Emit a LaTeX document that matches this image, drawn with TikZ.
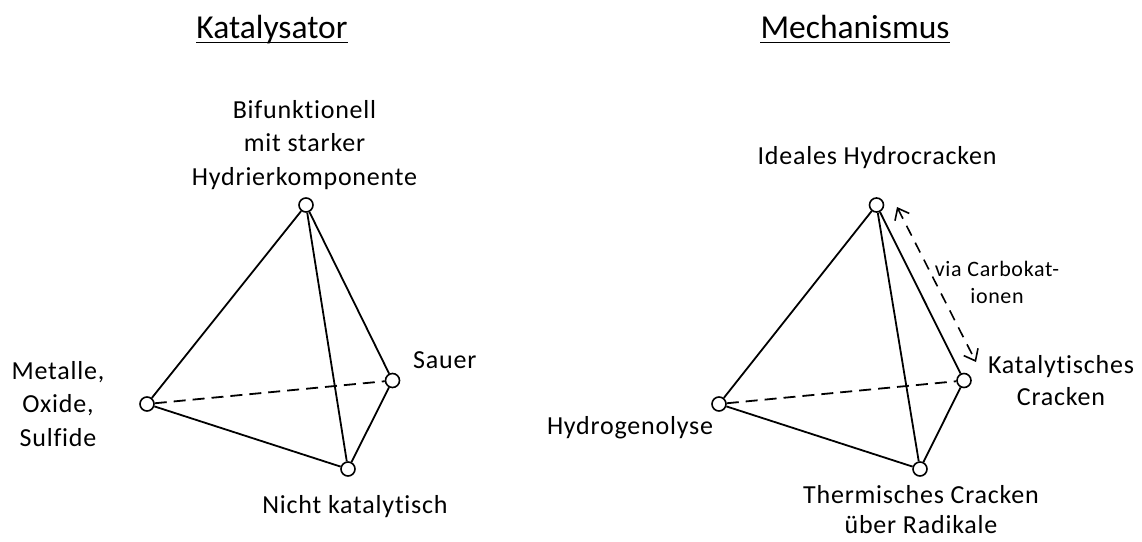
\documentclass[tikz,border=0pt]{standalone}
\usepackage{fontspec}
\setmainfont[Ligatures=NoCommon]{Carlito}
\newfontfamily\bodyfont[LetterSpace=3,Ligatures=NoCommon]{Carlito}
\usetikzlibrary{arrows.meta}
\tikzset{
  vtx/.style={circle,draw,fill=white,line width=1.6pt,minimum size=14pt,inner sep=0pt},
  edge/.style={line width=1.8pt},
  hidden/.style={line width=1.8pt,dash pattern=on 12pt off 7pt},
  lbl/.style={align=center,inner sep=0pt,anchor=base,font=\bodyfont\fontsize{26}{33.5}\selectfont},
  ttl/.style={inner sep=0pt,anchor=base,font=\fontsize{33.5}{38}\selectfont},
  note/.style={align=center,inner sep=0pt,anchor=base,font=\bodyfont\fontsize{22}{27}\selectfont},
  uline/.style={line width=1.8pt},
}
\begin{document}
\begin{tikzpicture}[x=1pt,y=-1pt]
\useasboundingbox (0,0) rectangle (1142,541);
% titles
\node[ttl] (t1) at (272,38) {Katalysator};
\node[ttl] (t2) at (855,38) {Mechanismus};
\draw[uline] ([yshift=-4.5pt]t1.base west) -- ([yshift=-4.5pt]t1.base east);
\draw[uline] ([yshift=-4.5pt]t2.base west) -- ([yshift=-4.5pt]t2.base east);
% left tetrahedron
\node[vtx] (a1) at (306,205) {};
\node[vtx] (b1) at (147,404) {};
\node[vtx] (c1) at (392.5,380.5) {};
\node[vtx] (d1) at (348,469) {};
\draw[hidden] (b1) -- (c1);
\draw[edge] (a1) -- (b1);
\draw[edge] (a1) -- (c1);
\draw[edge] (a1) -- (d1);
\draw[edge] (b1) -- (d1);
\draw[edge] (d1) -- (c1);
% right tetrahedron
\node[vtx] (a2) at (876.5,205) {};
\node[vtx] (b2) at (719,404) {};
\node[vtx] (c2) at (964,380.5) {};
\node[vtx] (d2) at (920,469) {};
\draw[hidden] (b2) -- (c2);
\draw[edge] (a2) -- (b2);
\draw[edge] (a2) -- (c2);
\draw[edge] (a2) -- (d2);
\draw[edge] (b2) -- (d2);
\draw[edge] (d2) -- (c2);
% dashed arrow
\coordinate (p1) at (897,207);
\coordinate (p2) at (976,362);
\draw[line width=1.6pt,dash pattern=on 11pt off 8pt,{Straight Barb[length=10pt,width=16pt,line width=1.6pt]}-{Straight Barb[length=10pt,width=16pt,line width=1.6pt]}] (p1) -- (p2);
% labels (multi-line nodes are placed at the baseline of their last line)
\node[lbl] (la1) at (304.5,185) {Bifunktionell\\mit starker\\Hydrierkomponente};
\node[lbl] (lb1) at (58,446) {Metalle,\\Oxide,\\Sulfide};
\node[lbl,anchor=base west] (lc1) at (413,368) {Sauer};
\node[lbl] (ld1) at (355,513) {Nicht katalytisch};
\node[lbl] (la2) at (877,164) {Ideales Hydrocracken};
\node[lbl] (lb2) at (630,434) {Hydrogenolyse};
\node[lbl,font=\bodyfont\fontsize{26}{32}\selectfont] (lc2) at (1061,405) {Katalytisches\\Cracken};
\node[lbl,font=\bodyfont\fontsize{26}{29.5}\selectfont] (ld2) at (921,533) {Thermisches Cracken\\über Radikale};
\node[note] (n1) at (997,303) {via Carbokat-\\ionen};
\end{tikzpicture}
\end{document}
